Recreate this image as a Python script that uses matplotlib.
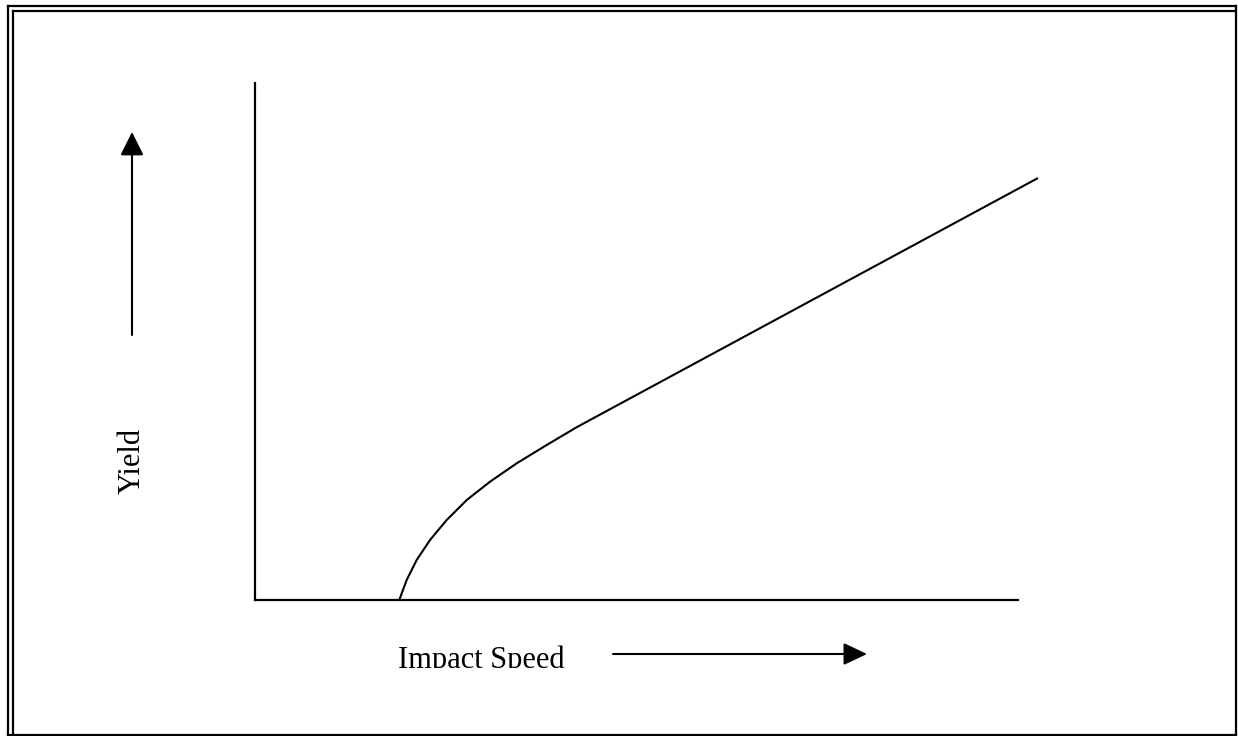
import matplotlib
matplotlib.use("Agg")
import matplotlib.pyplot as plt
from matplotlib.patches import FancyArrowPatch
from matplotlib.lines import Line2D
from matplotlib.transforms import Bbox, TransformedBbox

# Data (axis units, 0..10 on both axes)
speed = [1.891, 1.988, 2.119, 2.294, 2.512, 2.775, 3.080, 3.430, 3.823, 4.216, 4.391, 10.262]
yield_vals = [0.0, 0.387, 0.774, 1.161, 1.547, 1.934, 2.288, 2.644, 2.998, 3.342, 3.482, 8.162]
x_label = "Impact Speed"
y_label = "Yield"

W, H = 1238, 736
plt.rcParams['font.family'] = ['Liberation Serif', 'DejaVu Serif']

fig = plt.figure(figsize=(W / 100, H / 100), dpi=100)

def fx(px):
    return px / W

def fy(py):
    return 1 - py / H

ax = fig.add_axes([fx(255), fy(600), fx(1018) - fx(255), fy(83) - fy(600)])
ax.plot(speed, yield_vals, color='black', lw=1.5, clip_on=False, solid_capstyle='butt')
ax.set_xlim(0, 10)
ax.set_ylim(0, 10)
for s in ['top', 'right']:
    ax.spines[s].set_visible(False)
for s in ['left', 'bottom']:
    ax.spines[s].set_linewidth(1.6)
    ax.spines[s].set_color('black')
ax.set_xticks([])
ax.set_yticks([])

# Border frame
lw_b = 1.6
segs = [
    ((8, 6), (1236, 6)),
    ((8, 6), (8, 735)),
    ((8, 735), (1236, 735)),
    ((1236, 6), (1236, 735)),
    ((12.5, 10.5), (1236, 10.5)),
    ((12.5, 10.5), (12.5, 735)),
]
for (x0, y0), (x1, y1) in segs:
    fig.add_artist(Line2D([fx(x0), fx(x1)], [fy(y0), fy(y1)], transform=fig.transFigure,
                          color='black', lw=lw_b))

# Arrows
up = FancyArrowPatch((fx(132), fy(335)), (fx(132), fy(132)), transform=fig.transFigure,
                     arrowstyle='-|>,head_length=0.72,head_width=0.36', mutation_scale=20,
                     shrinkA=0, shrinkB=0, color='black', lw=1.5)
fig.add_artist(up)
right = FancyArrowPatch((fx(613), fy(654)), (fx(867), fy(654)), transform=fig.transFigure,
                        arrowstyle='-|>,head_length=0.72,head_width=0.34', mutation_scale=20,
                        shrinkA=0, shrinkB=0, color='black', lw=1.5)
fig.add_artist(right)

# Labels
t = fig.text(fx(398), fy(668), x_label, fontsize=22, ha='left', va='baseline', color='black')
t.set_clip_box(TransformedBbox(Bbox([[0, fy(668)], [1, 1]]), fig.transFigure))
t.set_clip_on(True)

fig.text(fx(140), fy(461), y_label, fontsize=22, rotation=90, rotation_mode='anchor',
         ha='center', va='baseline', color='black')

fig.savefig('out.png', dpi=100, facecolor='white')
